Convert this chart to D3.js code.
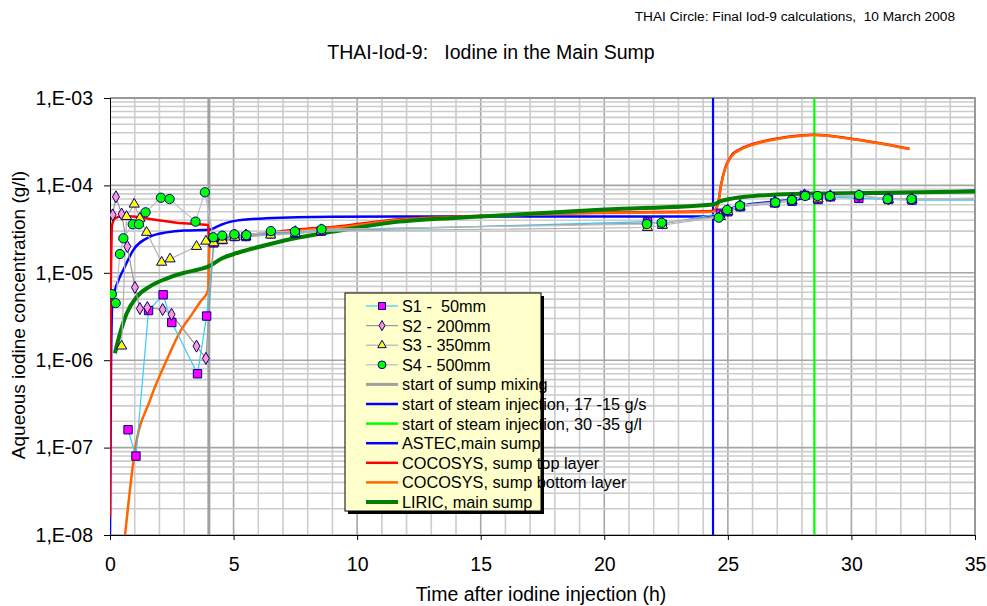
<!DOCTYPE html>
<html>
<head>
<meta charset="utf-8">
<script src="https://cdn.jsdelivr.net/npm/d3@7"></script>
<style>
  body { margin: 0; background: #fff; }
  text { font-family: "Liberation Sans", Arial, sans-serif; fill: #000; }
</style>
</head>
<body>
<div id="chart"></div>
<script>
// measured iodine concentrations [time h, g/l]
const s1Data = [[0.73,1.6e-7],[1.05,8.0e-8],[1.56,3.7e-6],[2.15,5.6e-6],[2.5,2.7e-6],[3.54,7.0e-7],[3.91,3.2e-6],
  [4.2,2.2e-5],[4.55,2.4e-5],[5.05,2.6e-5],[5.5,2.6e-5],[6.5,2.8e-5],[7.5,2.85e-5],[8.55,3.0e-5],
  [21.75,3.85e-5],[22.35,3.6e-5],[24.7,4.8e-5],[25.0,5.0e-5],[25.5,5.7e-5],[26.9,6.3e-5],[27.6,6.6e-5],
  [28.1,7.7e-5],[28.65,6.9e-5],[29.15,7.4e-5],[30.3,7.1e-5],[31.5,6.9e-5],[32.45,6.8e-5],[36,6.8e-5]];
const s2Data = [[0.11,4.6e-5],[0.24,7.4e-5],[0.47,4.7e-5],[0.70,2.0e-5],[1.01,6.8e-6],[1.21,3.9e-6],[1.51,4.0e-6],
  [2.13,3.8e-6],[2.49,3.35e-6],[3.50,1.45e-6],[3.88,1.05e-6],
  [4.2,2.3e-5],[4.55,2.5e-5],[5.05,2.7e-5],[5.5,2.7e-5],[6.5,2.9e-5],[7.5,2.95e-5],[8.55,3.1e-5],
  [21.75,3.7e-5],[22.35,3.7e-5],[24.7,4.5e-5],[25.0,5.2e-5],[25.5,5.9e-5],[26.9,6.5e-5],[27.6,6.9e-5],
  [28.1,7.8e-5],[28.65,7.3e-5],[29.15,7.6e-5],[30.3,7.6e-5],[31.5,7.0e-5],[32.45,7.0e-5],[36,7.1e-5]];
const s3Data = [[0.47,1.45e-6],[0.67,4.4e-5],[0.98,6.1e-5],[1.21,4.2e-5],[1.48,2.9e-5],[2.09,1.32e-5],[2.43,1.44e-5],
  [3.50,2.0e-5],[3.88,2.3e-5],
  [4.2,2.2e-5],[4.55,2.35e-5],[5.05,2.55e-5],[5.5,2.6e-5],[6.5,2.7e-5],[7.5,2.8e-5],[8.55,3.0e-5],
  [21.75,3.3e-5],[22.35,3.5e-5],[24.7,4.4e-5],[25.0,5.0e-5],[25.5,5.7e-5],[26.9,6.3e-5],[27.6,6.7e-5],
  [28.1,7.5e-5],[28.65,7.0e-5],[29.15,7.5e-5],[30.3,7.6e-5],[31.5,6.9e-5],[32.45,6.9e-5],[36,7.0e-5]];
const s4Data = [[0.07,5.7e-6],[0.23,4.5e-6],[0.40,1.64e-5],[0.54,2.48e-5],[0.92,3.59e-5],[1.17,3.59e-5],[1.44,4.92e-5],
  [2.06,7.22e-5],[2.41,6.98e-5],[3.46,3.85e-5],[3.84,8.34e-5],
  [4.18,2.55e-5],[4.54,2.66e-5],[5.03,2.75e-5],[5.52,2.70e-5],[6.51,3.0e-5],[7.48,2.97e-5],[8.56,3.15e-5],
  [21.72,3.61e-5],[22.32,3.74e-5],[24.63,4.27e-5],[24.97,5.24e-5],[25.49,5.86e-5],[26.92,6.4e-5],[27.59,6.8e-5],
  [28.13,7.57e-5],[28.63,7.57e-5],[29.13,7.57e-5],[30.31,7.76e-5],[31.46,6.98e-5],[32.43,6.98e-5],[36,7.2e-5]];

// code results
const astecData = [[0,1e-8],[0.04,8e-7],[0.1,4.9e-6],[0.2,6.4e-6],[0.38,8.7e-6],[0.54,1.08e-5],[0.94,1.82e-5],
  [1.62,2.59e-5],[2.29,2.9e-5],[3.0,3.05e-5],[4.0,3.1e-5],[4.5,3.55e-5],[5.0,3.9e-5],[6.3,4.2e-5],[9.0,4.38e-5],
  [12,4.4e-5],[24.4,4.4e-5],[24.7,4.6e-5],[24.95,5.2e-5],[25.5,5.8e-5],[26.8,6.5e-5],[27.9,7.0e-5],[28.5,7.5e-5],
  [30.5,7.95e-5],[32.5,8.25e-5],[35,8.7e-5]];
const cocoTopData = [[0,1.6e-8],[0.02,3e-6],[0.05,1.5e-5],[0.08,3.5e-5],[0.2,4.2e-5],[0.54,4.47e-5],[0.94,4.4e-5],
  [1.62,4.13e-5],[2.96,3.68e-5],[3.97,3.52e-5],[4.02,2.15e-5],[4.5,2.4e-5],[5.0,2.55e-5],[6.33,2.85e-5],
  [7.68,3.15e-5],[9.03,3.35e-5],[11.7,4.1e-5],[15,4.5e-5],[20,4.9e-5],[24.4,5.1e-5],[24.6,6.2e-5],[24.72,1.0e-4],
  [24.88,1.55e-4],[25.15,2.2e-4],[25.5,2.6e-4],[25.9,2.9e-4],[27.0,3.45e-4],[27.9,3.72e-4],[28.5,3.8e-4],
  [29.8,3.48e-4],[31.1,3.05e-4],[32.35,2.62e-4]];
const cocoBottomData = [[0.61,1e-8],[1.01,9.3e-8],[1.62,3.5e-7],[2.29,1.0e-6],[2.83,2.1e-6],[3.3,3.3e-6],
  [3.64,4.6e-6],[3.97,6.3e-6],[4.02,2.05e-5],[4.5,2.3e-5],[5.0,2.48e-5],[6.33,2.78e-5],[7.68,3.07e-5],
  [9.03,3.27e-5],[11.7,4.02e-5],[15,4.42e-5],[20,4.82e-5],[24.4,5.0e-5],[24.6,6.0e-5],[24.72,9.8e-5],
  [24.88,1.52e-4],[25.15,2.15e-4],[25.5,2.55e-4],[25.9,2.85e-4],[27.0,3.4e-4],[27.9,3.68e-4],[28.5,3.77e-4],
  [29.8,3.46e-4],[31.1,3.03e-4],[32.35,2.6e-4]];
const liricData = [[0.2,1.2e-6],[0.4,2.0e-6],[0.67,3.4e-6],[1.08,5.3e-6],[1.62,7.0e-6],[2.29,8.6e-6],[3.0,1.0e-5],
  [3.64,1.1e-5],[4.04,1.2e-5],[4.5,1.45e-5],[4.98,1.63e-5],[6.33,2.08e-5],[7.68,2.55e-5],[9.03,2.96e-5],
  [11.7,3.85e-5],[15,4.4e-5],[20,5.3e-5],[24.4,6.05e-5],[24.7,6.6e-5],[25.2,7.1e-5],[25.7,7.4e-5],[27,7.85e-5],
  [29,8.1e-5],[32,8.3e-5],[35,8.5e-5]];

// event times (h)
const mixingTime = 4.0;
const steam1Time = 24.4;
const steam2Time = 28.5;

const xTicks = [0, 5, 10, 15, 20, 25, 30, 35];
const yTicks = [1e-8, 1e-7, 1e-6, 1e-5, 1e-4, 1e-3];
const yTickLabels = ["1,E-08", "1,E-07", "1,E-06", "1,E-05", "1,E-04", "1,E-03"];

const legendLabels = ["S1 -  50mm", "S2 - 200mm", "S3 - 350mm", "S4 - 500mm", "start of sump mixing",
  "start of steam injection, 17 -15 g/s", "start of steam injection, 30 -35 g/l", "ASTEC,main sump",
  "COCOSYS, sump top layer", "COCOSYS, sump bottom layer", "LIRIC, main sump"];

const width = 987, height = 606;
const plot = { left: 110, right: 975, top: 98, bottom: 535 };

const svg = d3.select("#chart").append("svg")
  .attr("width", width)
  .attr("height", height);

const x = d3.scaleLinear().domain([0, 35]).range([plot.left, plot.right]);
const y = d3.scaleLog().domain([1e-8, 1e-3]).range([plot.bottom, plot.top]);

svg.append("defs").append("clipPath")
  .attr("id", "plot-clip")
  .append("rect")
  .attr("x", plot.left)
  .attr("y", plot.top)
  .attr("width", plot.right - plot.left)
  .attr("height", plot.bottom - plot.top);

// grid
const grid = svg.append("g");
d3.range(1, 35).forEach(h => {
  grid.append("line")
    .attr("x1", x(h)).attr("x2", x(h))
    .attr("y1", plot.top).attr("y2", plot.bottom)
    .attr("stroke", h % 5 === 0 ? "#a6a6a6" : "#cccccc")
    .attr("stroke-width", 1.6);
});
d3.range(-8, -3).forEach(e => {
  d3.range(1, 10).forEach(m => {
    const v = m * Math.pow(10, e);
    grid.append("line")
      .attr("x1", plot.left).attr("x2", plot.right)
      .attr("y1", y(v)).attr("y2", y(v))
      .attr("stroke", m === 1 ? "#a6a6a6" : "#cccccc")
      .attr("stroke-width", 1.6);
  });
});
// top and right border
grid.append("path")
  .attr("d", `M${plot.left},${plot.top}H${plot.right}V${plot.bottom}`)
  .attr("fill", "none")
  .attr("stroke", "#999")
  .attr("stroke-width", 2);

// axes
const xAxis = svg.append("g")
  .attr("transform", `translate(0,${plot.bottom})`)
  .call(d3.axisBottom(x).tickValues(xTicks).tickSize(5).tickPadding(17).tickFormat(d3.format("d")));
const yAxis = svg.append("g")
  .attr("transform", `translate(${plot.left},0)`)
  .call(d3.axisLeft(y).tickValues(yTicks).tickSize(6).tickPadding(11).tickFormat((d, i) => yTickLabels[i]));
[xAxis, yAxis].forEach(a => {
  a.selectAll("text").style("font-size", "19.5px").attr("fill", "#000");
  a.selectAll("line").attr("stroke", "#000");
  a.select(".domain").attr("stroke", "#000");
});

const body = svg.append("g").attr("clip-path", "url(#plot-clip)");

const line = d3.line().x(d => x(d[0])).y(d => y(d[1]));
const smooth = d3.line().x(d => x(d[0])).y(d => y(d[1])).curve(d3.curveMonotoneX);

// event markers
const events = [
  { t: mixingTime, color: "#a0a0a0", w: 3 },
  { t: steam1Time, color: "#0000ff", w: 2.2 },
  { t: steam2Time, color: "#00ff00", w: 2.2 }
];
events.forEach(ev => {
  body.append("line")
    .attr("x1", x(ev.t)).attr("x2", x(ev.t))
    .attr("y1", plot.top).attr("y2", plot.bottom)
    .attr("stroke", ev.color)
    .attr("stroke-width", ev.w);
});

// model curves
const models = [
  { data: astecData, color: "#0000ff", w: 2.5 },
  { data: cocoTopData, color: "#ff0000", w: 2.5 },
  { data: cocoBottomData, color: "#ff6600", w: 2.5 },
  { data: liricData, color: "#008000", w: 4 }
];
models.forEach(m => {
  body.append("path")
    .datum(m.data)
    .attr("d", smooth)
    .attr("fill", "none")
    .attr("stroke", m.color)
    .attr("stroke-width", m.w)
    .attr("stroke-linejoin", "round");
});

// measurements
const series = [
  { data: s1Data, line: "#33ccff", fill: "#ff00ff", symbol: d3.symbolSquare, size: 70 },
  { data: s2Data, line: "#999999", fill: "#ff99cc", symbol: d3.symbolDiamond, size: 42 },
  { data: s3Data, line: "#b2b2b2", fill: "#ffff00", symbol: d3.symbolTriangle, size: 45 },
  { data: s4Data, line: "#bfbfbf", fill: "#00ff00", symbol: d3.symbolCircle, size: 68 }
];
series.forEach(s => {
  body.append("path")
    .datum(s.data)
    .attr("d", line)
    .attr("fill", "none")
    .attr("stroke", s.line)
    .attr("stroke-width", 1.2);
});
series.forEach(s => {
  body.selectAll(null)
    .data(s.data.filter(d => d[0] <= 35))
    .enter()
    .append("path")
    .attr("transform", d => `translate(${x(d[0])},${y(d[1])})`)
    .attr("d", d3.symbol().type(s.symbol).size(s.size))
    .attr("fill", s.fill)
    .attr("stroke", "#000080")
    .attr("stroke-width", 1);
});

// titles
svg.append("text")
  .attr("x", 955).attr("y", 21)
  .attr("text-anchor", "end")
  .style("font-size", "13.7px")
  .style("white-space", "pre")
  .text("THAI Circle: Final Iod-9 calculations,  10 March 2008");
svg.append("text")
  .attr("x", 491).attr("y", 59)
  .attr("text-anchor", "middle")
  .style("font-size", "19.5px")
  .style("white-space", "pre")
  .text("THAI-Iod-9:   Iodine in the Main Sump");
svg.append("text")
  .attr("x", 541).attr("y", 601)
  .attr("text-anchor", "middle")
  .style("font-size", "19.5px")
  .text("Time after iodine injection (h)");
svg.append("text")
  .attr("transform", "translate(25,315) rotate(-90)")
  .attr("text-anchor", "middle")
  .style("font-size", "19px")
  .text("Aqueous iodine concentration (g/l)");

// legend
const lg = svg.append("g").attr("transform", "translate(345,293)");
lg.append("rect").attr("x", 3).attr("y", 3).attr("width", 196).attr("height", 218).attr("fill", "#000");
lg.append("rect").attr("width", 196).attr("height", 218).attr("fill", "#ffffcc").attr("stroke", "#000").attr("stroke-width", 1);

const legendStyles = [
  { color: "#33ccff", w: 1.2, marker: 0 },
  { color: "#999999", w: 1.2, marker: 1 },
  { color: "#b2b2b2", w: 1.2, marker: 2 },
  { color: "#bfbfbf", w: 1.2, marker: 3 },
  { color: "#a0a0a0", w: 3 },
  { color: "#0000ff", w: 2.5 },
  { color: "#00ff00", w: 2.5 },
  { color: "#0000ff", w: 2.5 },
  { color: "#ff0000", w: 2.5 },
  { color: "#ff6600", w: 2.5 },
  { color: "#008000", w: 4 }
];
legendLabels.forEach((label, i) => {
  const row = lg.append("g").attr("transform", `translate(0,${13 + i * 19.6})`);
  const st = legendStyles[i];
  row.append("line")
    .attr("x1", 21).attr("x2", 53)
    .attr("stroke", st.color)
    .attr("stroke-width", st.w);
  if (st.marker !== undefined) {
    const s = series[st.marker];
    row.append("path")
      .attr("transform", "translate(37,0)")
      .attr("d", d3.symbol().type(s.symbol).size(s.size * 0.7))
      .attr("fill", s.fill)
      .attr("stroke", "#000080");
  }
  row.append("text")
    .attr("x", 57).attr("y", 6)
    .style("font-size", "16.3px")
    .style("white-space", "pre")
    .text(label);
});
</script>
</body>
</html>
